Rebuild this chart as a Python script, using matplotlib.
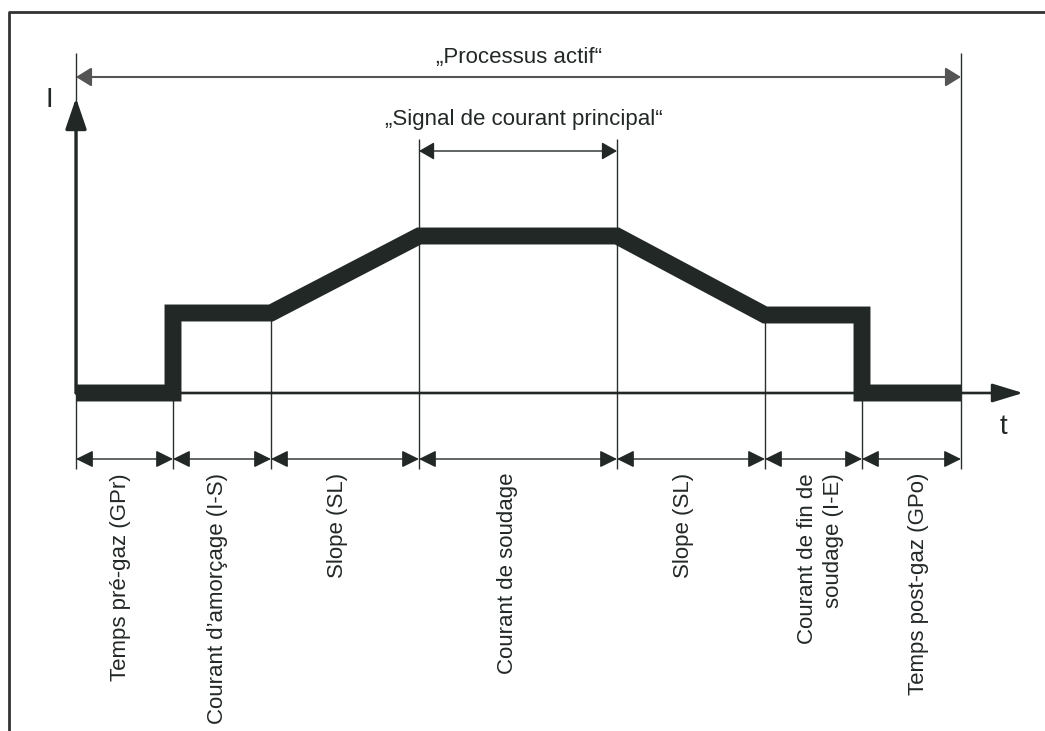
import matplotlib.pyplot as plt

# phase boundaries on the time axis (same units as the drawing, origin at the I axis)
t_bounds = [0, 97, 195, 343, 541, 689, 786, 885]
phase_labels = [
    "Temps pré-gaz (GPr)",
    "Courant d\u2019amorçage (I-S)",
    "Slope (SL)",
    "Courant de soudage",
    "Slope (SL)",
    "Courant de fin de\nsoudage (I-E)",
    "Temps post-gaz (GPo)",
]
label_nudge = [-4, -4, -7, -11, -7, 7, 7]

# current levels
i_base = 0
i_start = 80
i_main = 157
i_end = 78

profile_t = [0, t_bounds[1], t_bounds[1], t_bounds[2], t_bounds[3],
             t_bounds[4], t_bounds[5], t_bounds[6], t_bounds[6], t_bounds[7]]
profile_i = [i_base, i_base, i_start, i_start, i_main,
             i_main, i_end, i_end, i_base, i_base]

DARK = '#222826'
LINE = '#2b2f2e'

fig = plt.figure(figsize=(10.45, 7.31), dpi=100)
ax = fig.add_axes([0, 0, 1, 1])
ax.set_xlim(-76, 969)
ax.set_ylim(-338, 393)
ax.axis('off')
plt.rcParams['font.family'] = ['Liberation Sans', 'DejaVu Sans']


def arrow(x0, y0, x1, y1, style, hl, hw, lw, color=DARK):
    ax.annotate('', xy=(x1, y1), xytext=(x0, y0),
                arrowprops=dict(arrowstyle=f'{style},head_length={hl},head_width={hw}',
                                lw=lw, color=color, shrinkA=0, shrinkB=0,
                                mutation_scale=1))


# frame
ax.plot([-67, -67, 969], [-338, 381, 381], color='#333333', lw=2.0, clip_on=False)

# divider lines
y_bottom = -76
dim_y = -66
tops = [340, i_base, i_start, 254, 254, i_end, i_base, 340]
for t, top in zip(t_bounds, tops):
    ax.plot([t, t], [y_bottom, top], color=LINE, lw=1.0, solid_capstyle='butt')

# axes
arrow(0, 0, 947, 0, '-|>', 19, 5.8, 1.9)
arrow(0, 0, 0, 295, '-|>', 19, 6.5, 2.4)
ax.text(-27, 293, 'I', fontsize=20, ha='center', va='center', color=DARK)
ax.text(927, -34, 't', fontsize=20, ha='center', va='center', color=DARK)

# current profile
ax.plot(profile_t, profile_i, color=DARK, lw=12.2,
        solid_joinstyle='miter', solid_capstyle='butt')

# process spans
arrow(t_bounds[0], 316, t_bounds[-1], 316, '<|-|>', 9.4, 5.8, 1.5, '#555555')
ax.text((t_bounds[0] + t_bounds[-1]) / 2, 335, '\u201eProcessus actif\u201c',
        fontsize=16, ha='center', va='center', color=DARK)
arrow(t_bounds[3], 242, t_bounds[4], 242, '<|-|>', 9.4, 5.4, 1.0)
ax.text((t_bounds[3] + t_bounds[4]) / 2 + 6, 273, '\u201eSignal de courant principal\u201c',
        fontsize=16, ha='center', va='center', color=DARK)

# phase dimensions and labels
for k, lab in enumerate(phase_labels):
    a, b = t_bounds[k], t_bounds[k + 1]
    arrow(a, dim_y, b, dim_y, '<|-|>', 10.5, 5.2, 1.0)
    ax.text((a + b) / 2 + label_nudge[k], -80, lab, rotation=90, fontsize=16,
            ha='center', va='top', multialignment='right', linespacing=1.3,
            color=DARK)

fig.savefig('out.png', dpi=100)
